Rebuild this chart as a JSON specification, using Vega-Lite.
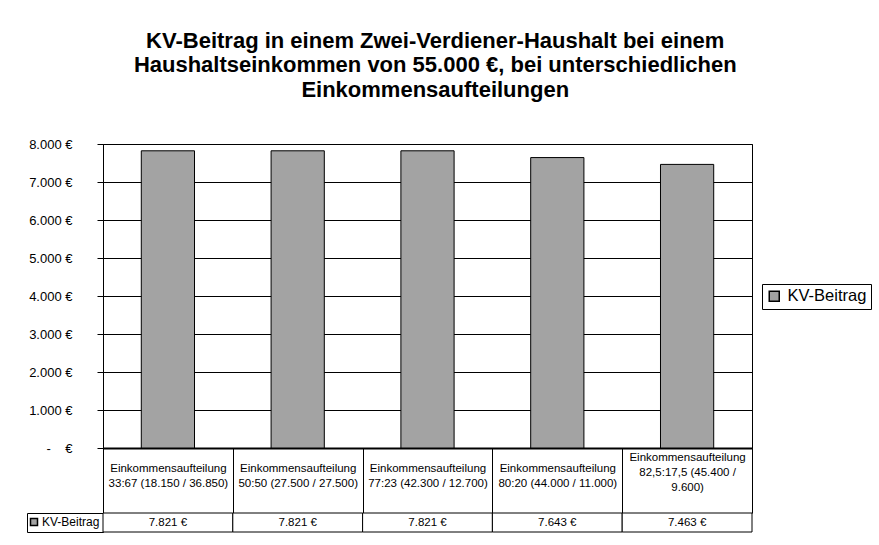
{
  "$schema": "https://vega.github.io/schema/vega-lite/v6.json",
  "background": "white",
  "padding": {"left": 26, "top": 29, "right": 5, "bottom": 5},
  "title": {
    "text": ["KV-Beitrag in einem Zwei-Verdiener-Haushalt bei einem", "Haushaltseinkommen von 55.000 €, bei unterschiedlichen", "Einkommensaufteilungen"],
    "font": "Liberation Sans",
    "fontSize": 22,
    "fontWeight": "bold",
    "lineHeight": 24.5,
    "color": "black",
    "anchor": "middle",
    "frame": "bounds",
    "offset": 36,
    "dx": -14
  },
  "datasets": {
    "kv": [
      {"kategorie": "Einkommensaufteilung 33:67 (18.150 / 36.850)", "beitrag": 7821, "serie": "KV-Beitrag"},
      {"kategorie": "Einkommensaufteilung 50:50 (27.500 / 27.500)", "beitrag": 7821, "serie": "KV-Beitrag"},
      {"kategorie": "Einkommensaufteilung 77:23 (42.300 / 12.700)", "beitrag": 7821, "serie": "KV-Beitrag"},
      {"kategorie": "Einkommensaufteilung 80:20 (44.000 / 11.000)", "beitrag": 7643, "serie": "KV-Beitrag"},
      {"kategorie": "Einkommensaufteilung 82,5:17,5 (45.400 / 9.600)", "beitrag": 7463, "serie": "KV-Beitrag"}
    ]
  },
  "columns": 2,
  "align": "each",
  "bounds": "flush",
  "spacing": {"row": 65, "column": 0},
  "concat": [
    {
      "width": 76,
      "height": 304,
      "data": {"values": []},
      "mark": "point"
    },
    {
      "width": 649,
      "height": 304,
      "data": {"name": "kv"},
      "view": {"stroke": "black"},
      "mark": {"type": "bar", "stroke": "black", "width": {"band": 0.41}},
      "encoding": {
        "x": {
          "field": "kategorie",
          "type": "nominal",
          "sort": null,
          "scale": {"paddingInner": 0, "paddingOuter": 0},
          "axis": {
            "title": null,
            "labelAngle": 0,
            "labelFontSize": 11.5,
            "labelLineHeight": 15,
            "labelBaseline": "middle",
            "labelPadding": {"condition": {"test": "length(datum.label) > 45", "value": -56}, "value": -45},
            "labelOverlap": false,
            "labelLimit": 300,
            "labelColor": "black",
            "tickBand": "extent",
            "tickSize": 65,
            "tickColor": "black",
            "domainColor": "black",
            "domainWidth": 2,
            "labelExpr": "length(datum.label) > 45 ? [substring(datum.label, 0, 20), substring(datum.label, 21, 40), substring(datum.label, 41)] : [substring(datum.label, 0, 20), substring(datum.label, 21)]"
          }
        },
        "y": {
          "field": "beitrag",
          "type": "quantitative",
          "scale": {"domain": [0, 8000]},
          "axis": {
            "title": null,
            "values": [0, 1000, 2000, 3000, 4000, 5000, 6000, 7000, 8000],
            "labelExpr": "datum.value === 0 ? '-\u00a0\u00a0\u00a0\u00a0€' : replace(format(datum.value, ','), ',', '.') + ' €'",
            "labelFontSize": 13,
            "labelColor": "black",
            "labelPadding": 25,
            "tickSize": 6,
            "tickColor": "black",
            "grid": true,
            "gridColor": "black",
            "domainColor": "black"
          }
        },
        "color": {
          "field": "serie",
          "type": "nominal",
          "scale": {"range": ["#a3a3a3"]},
          "legend": {
            "orient": "none",
            "legendX": 659,
            "legendY": 140,
            "title": null,
            "strokeColor": "black",
            "padding": 4,
            "symbolType": "square",
            "symbolSize": 100,
            "symbolStrokeColor": "black",
            "labelFontSize": 16.5,
            "labelColor": "black",
            "labelOffset": 5
          }
        }
      }
    },
    {
      "width": 76,
      "height": 19,
      "data": {"name": "kv"},
      "view": {"stroke": "black"},
      "mark": {"type": "text", "text": ""},
      "encoding": {
        "color": {
          "field": "serie",
          "type": "nominal",
          "scale": {"range": ["#a3a3a3"]},
          "legend": {
            "orient": "none",
            "legendX": 1,
            "legendY": 3,
            "title": null,
            "padding": 0,
            "symbolType": "square",
            "symbolSize": 49,
            "symbolStrokeColor": "black",
            "labelFontSize": 12,
            "labelColor": "black",
            "labelOffset": 2
          }
        }
      }
    },
    {
      "width": 649,
      "height": 19,
      "data": {"name": "kv"},
      "encoding": {
        "x": {
          "field": "kategorie",
          "type": "nominal",
          "sort": null,
          "axis": null,
          "scale": {"paddingInner": 0, "paddingOuter": 0}
        }
      },
      "layer": [
        {"mark": {"type": "rect", "fill": "white", "stroke": "black"}},
        {
          "mark": {"type": "text", "fontSize": 11.5, "color": "black"},
          "encoding": {"text": {"field": "beitrag", "type": "quantitative", "format": "$,d"}}
        }
      ]
    }
  ],
  "resolve": {
    "scale": {"x": "independent", "y": "independent", "color": "independent"},
    "legend": {"color": "independent"},
    "axis": {"x": "independent", "y": "independent"}
  },
  "config": {
    "font": "Liberation Sans",
    "view": {"stroke": null},
    "locale": {"number": {"decimal": ",", "thousands": ".", "grouping": [3], "currency": ["", " €"]}}
  }
}
